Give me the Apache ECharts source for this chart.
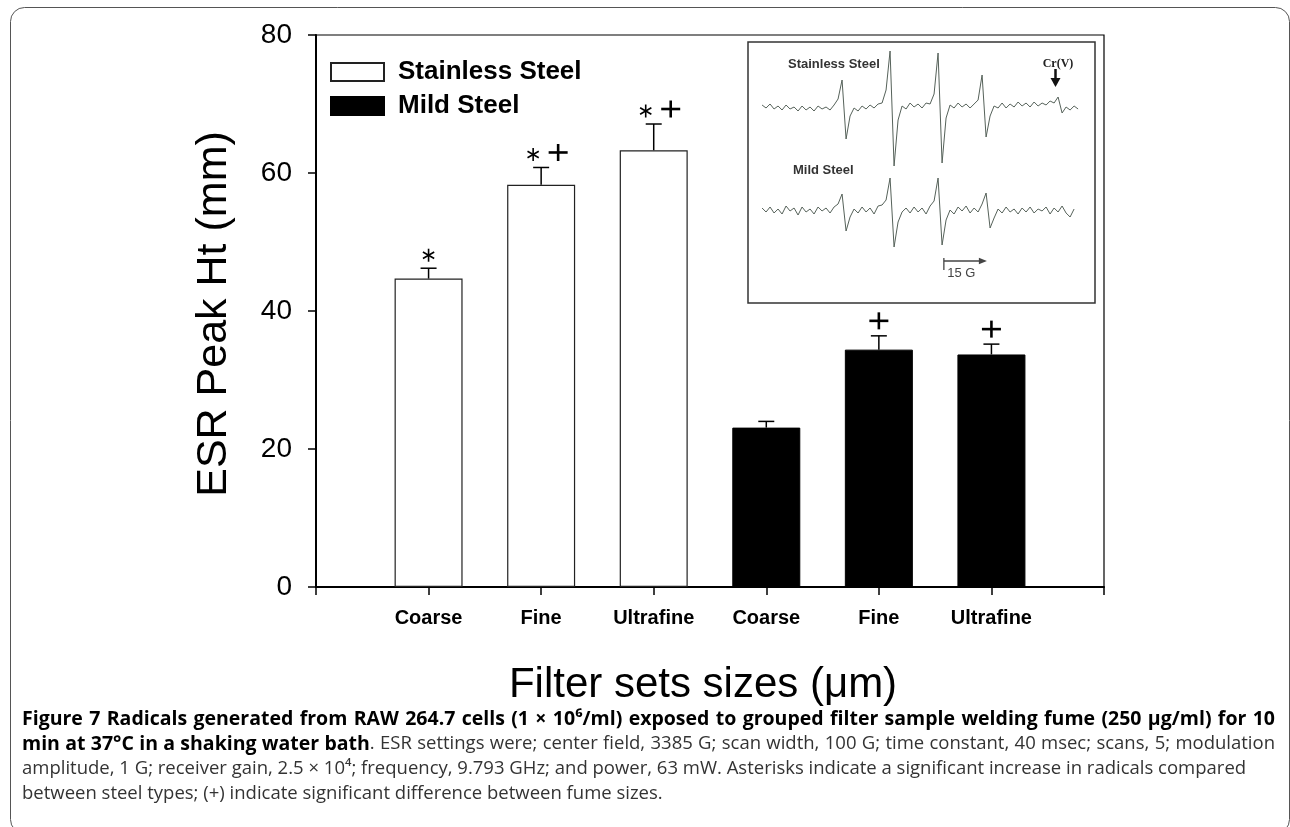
<!DOCTYPE html>
<html>
<head>
<meta charset="utf-8">
<script src="https://cdn.jsdelivr.net/npm/echarts@6/dist/echarts.min.js"></script>
<style>
html,body{margin:0;padding:0;background:#fff;}
#c{width:1290px;height:827px;}
</style>
</head>
<body>
<div id="c"></div>
<script>
// ---------- main bar chart data ----------
const CATEGORIES = ['', 'Coarse', 'Fine', 'Ultrafine', 'Coarse', 'Fine', 'Ultrafine', ''];
const STAINLESS = [null, 44.7, 58.3, 63.3, null, null, null, null];
const STAINLESS_SEM = [null, 1.5, 2.5, 3.8, null, null, null, null];
const MILD = [null, null, null, null, 23.1, 34.4, 33.7, null];
const MILD_SEM = [null, null, null, null, 0.9, 2.0, 1.5, null];
const SIG_ASTERISK = [false, true, true, true, false, false, false, false];
const SIG_PLUS = [false, false, true, true, false, true, true, false];
const Y_MIN = 0, Y_MAX = 80, Y_STEP = 20;
const SERIES_NAMES = ['Stainless Steel', 'Mild Steel'];

// ---------- inset ESR spectra ----------
const FIELD_START_G = 4.9;
const FIELD_STEP_G = 1.395;
const ESR_STAINLESS = [
  67,64,68,63,66,62,67,63,65,61,
  66,62,65,61,66,63,65,62,67,73,
  92,33,56,64,61,66,63,67,64,68,
  69,82,121,6,52,66,63,69,65,68,
  64,69,68,78,119,9,54,67,64,69,
  65,68,64,68,72,97,35,56,66,64,
  69,64,68,65,70,66,69,65,70,66,
  69,67,71,69,75,59,65,62,66,63
];
const ESR_MILD = [
  -36,-40,-35,-41,-37,-42,-34,-39,-36,-43,
  -35,-40,-37,-42,-35,-39,-36,-41,-35,-32,
  -22,-59,-45,-37,-41,-35,-40,-36,-42,-34,
  -33,-28,-6,-75,-50,-40,-36,-41,-35,-40,
  -36,-42,-34,-29,-6,-73,-48,-38,-42,-35,
  -39,-34,-41,-36,-40,-32,-21,-56,-46,-37,
  -41,-35,-40,-37,-42,-36,-40,-35,-41,-37,
  -39,-35,-42,-36,-40,-34,-41,-45,-37
];
const SCALE_BAR = [68.3, 83.3, -89];   // [from G, to G, level]
const SCALE_BAR_LABEL = '15 G';

// ---------- caption ----------
const CAPTION_LINES = [
  { justify: true, parts: [['b', 'Figure 7 Radicals generated from RAW 264.7 cells (1 \u00d7 10\u2076/ml) exposed to grouped filter sample welding fume (250 \u03bcg/ml) for 10']] },
  { justify: true, parts: [['b', 'min at 37\u00b0C in a shaking water bath'], ['r', '. ESR settings were; center field, 3385 G; scan width, 100 G; time constant, 40 msec; scans, 5; modulation']] },
  { justify: false, parts: [['r', 'amplitude, 1 G; receiver gain, 2.5 \u00d7 10\u2074; frequency, 9.793 GHz; and power, 63 mW. Asterisks indicate a significant increase in radicals compared']] },
  { justify: false, parts: [['r', 'between steel types; (+) indicate significant difference between fume sizes.']] }
];

const FONT = '"Liberation Sans", Arial, sans-serif';
const CAP_FONT = '"Open Sans", "Noto Sans", sans-serif';
const CAP_STYLE = {
  b: { font: 'bold 19.5px ' + CAP_FONT, fill: '#000' },
  r: { font: '18.5px ' + CAP_FONT, fill: '#333' }
};

function spectrum(vals) {
  return vals.map((v, i) => [FIELD_START_G + i * FIELD_STEP_G, v]);
}
function errorData(vals, sems) {
  const out = [];
  vals.forEach((v, i) => {
    if (v != null) out.push([i, v, sems[i], SIG_ASTERISK[i] ? 1 : 0, SIG_PLUS[i] ? 1 : 0]);
  });
  return out;
}

// build caption text elements (word-justified like the journal layout)
const measureCtx = document.createElement('canvas').getContext('2d');
function textW(str, font) { measureCtx.font = font; return measureCtx.measureText(str).width; }
function captionGraphics(x0, x1, yStart, lineStep) {
  const els = [];
  CAPTION_LINES.forEach((line, li) => {
    const words = [];
    let cur = [];
    line.parts.forEach(([k, txt]) => {
      const pieces = txt.split(' ');
      pieces.forEach((p, pi) => {
        if (pi > 0) { words.push(cur); cur = []; }
        if (p.length) cur.push([k, p]);
      });
    });
    if (cur.length) words.push(cur);
    const widths = words.map(w => w.reduce((s, [k, t]) => s + textW(t, CAP_STYLE[k].font), 0));
    const total = widths.reduce((a, b) => a + b, 0);
    const spaceW = textW(' ', CAP_STYLE.r.font);
    const gap = line.justify ? Math.max(spaceW, (x1 - x0 - total) / (words.length - 1)) : spaceW;
    let x = x0;
    const y = yStart + li * lineStep;
    words.forEach((w, wi) => {
      let xx = x;
      w.forEach(([k, t]) => {
        els.push({ type: 'text', z: 10, x: xx, y: y,
          style: { text: t, font: CAP_STYLE[k].font, fill: CAP_STYLE[k].fill, align: 'left', verticalAlign: 'middle' } });
        xx += textW(t, CAP_STYLE[k].font);
      });
      x += widths[wi] + gap;
    });
  });
  return els;
}

function renderErr(params, api) {
  const i = api.value(0), v = api.value(1), e = api.value(2);
  const ast = api.value(3), plus = api.value(4);
  const b = api.coord([i, v]), t = api.coord([i, v + e]);
  const st = { stroke: '#000', lineWidth: 1.5 };
  const ch = [
    { type: 'line', shape: { x1: b[0], y1: b[1], x2: t[0], y2: t[1] }, style: st },
    { type: 'line', shape: { x1: t[0] - 8, y1: t[1], x2: t[0] + 8, y2: t[1] }, style: st }
  ];
  if (ast) {
    const cx = t[0] + (plus ? -8 : 0), cy = t[1] - 13, r = 6.5;
    [90, 30, 150].forEach(a => {
      const rad = a * Math.PI / 180, dx = r * Math.cos(rad), dy = r * Math.sin(rad);
      ch.push({ type: 'line', shape: { x1: cx - dx, y1: cy - dy, x2: cx + dx, y2: cy + dy },
        style: { stroke: '#000', lineWidth: 1.6 } });
    });
  }
  if (plus) {
    const cx = t[0] + (ast ? 17 : 0), cy = t[1] - 15;
    ch.push({ type: 'line', shape: { x1: cx - 9.5, y1: cy, x2: cx + 9.5, y2: cy }, style: { stroke: '#000', lineWidth: 2.6 } });
    ch.push({ type: 'line', shape: { x1: cx, y1: cy - 8.5, x2: cx, y2: cy + 8.5 }, style: { stroke: '#000', lineWidth: 2.6 } });
  }
  return { type: 'group', children: ch };
}

function renderScale(params, api) {
  const a = api.coord([api.value(0), api.value(2)]);
  const b = api.coord([api.value(1), api.value(2)]);
  const c = '#444';
  return { type: 'group', children: [
    { type: 'line', shape: { x1: a[0], y1: a[1], x2: b[0] - 6, y2: b[1] }, style: { stroke: c, lineWidth: 1.3 } },
    { type: 'polygon', shape: { points: [[b[0], b[1]], [b[0] - 8, b[1] - 3.2], [b[0] - 8, b[1] + 3.2]] }, style: { fill: c } },
    { type: 'line', shape: { x1: a[0], y1: a[1] - 3, x2: a[0], y2: a[1] + 9 }, style: { stroke: c, lineWidth: 1.3 } },
    { type: 'text', style: { text: SCALE_BAR_LABEL, x: (a[0] + b[0]) / 2 - 4, y: a[1] + 12,
      font: '13px ' + FONT, fill: c, align: 'center', verticalAlign: 'middle' } }
  ]};
}

const chart = echarts.init(document.getElementById('c'), null, { renderer: 'canvas' });

const option = {
  animation: false,
  backgroundColor: '#fff',
  legend: {
    orient: 'vertical', left: 330, top: 59, padding: 0,
    itemWidth: 53, itemHeight: 18, itemGap: 8, icon: 'rect',
    data: SERIES_NAMES,
    textStyle: { fontFamily: FONT, fontWeight: 'bold', fontSize: 26, color: '#000', lineHeight: 26, padding: [0, 0, 0, 9] }
  },
  grid: [
    { left: 316, top: 35, width: 788, height: 552, show: true, borderColor: '#000', borderWidth: 1.2, containLabel: false },
    { left: 748, top: 42, width: 347, height: 261, show: true, borderColor: '#333', borderWidth: 1.5, backgroundColor: '#fff', z: 5 }
  ],
  xAxis: [
    {
      gridIndex: 0, type: 'category', data: CATEGORIES, boundaryGap: false,
      axisLine: { lineStyle: { color: '#000', width: 2 } },
      axisTick: { show: true, interval: 0, length: 8, lineStyle: { color: '#000', width: 1.5 } },
      axisLabel: { interval: 0, margin: 21, fontFamily: FONT, fontWeight: 'bold', fontSize: 20, color: '#000' },
      splitLine: { show: false }
    },
    { gridIndex: 1, type: 'value', min: 0, max: 121, show: false }
  ],
  yAxis: [
    {
      gridIndex: 0, type: 'value', min: Y_MIN, max: Y_MAX, interval: Y_STEP,
      axisLine: { show: true, lineStyle: { color: '#000', width: 2 } },
      axisTick: { show: true, length: 8, lineStyle: { color: '#000', width: 1.5 } },
      axisLabel: { margin: 24, fontFamily: FONT, fontSize: 28, color: '#000' },
      splitLine: { show: false }
    },
    { gridIndex: 1, type: 'value', min: -131, max: 130, show: false }
  ],
  series: [
    {
      name: SERIES_NAMES[0], type: 'bar', xAxisIndex: 0, yAxisIndex: 0,
      data: STAINLESS, barWidth: 68, barGap: '-100%',
      itemStyle: { color: '#fff', borderColor: '#222', borderWidth: 1.2 }
    },
    {
      name: SERIES_NAMES[1], type: 'bar', xAxisIndex: 0, yAxisIndex: 0,
      data: MILD, barWidth: 68, barGap: '-100%',
      itemStyle: { color: '#000', borderColor: '#000', borderWidth: 1 }
    },
    {
      type: 'custom', xAxisIndex: 0, yAxisIndex: 0, renderItem: renderErr,
      data: errorData(STAINLESS, STAINLESS_SEM), z: 4, silent: true
    },
    {
      type: 'custom', xAxisIndex: 0, yAxisIndex: 0, renderItem: renderErr,
      data: errorData(MILD, MILD_SEM), z: 4, silent: true
    },
    {
      type: 'line', xAxisIndex: 1, yAxisIndex: 1, data: spectrum(ESR_STAINLESS),
      showSymbol: false, symbol: 'none', lineStyle: { color: '#56625a', width: 1 }, z: 6, silent: true
    },
    {
      type: 'line', xAxisIndex: 1, yAxisIndex: 1, data: spectrum(ESR_MILD),
      showSymbol: false, symbol: 'none', lineStyle: { color: '#56625a', width: 1 }, z: 6, silent: true
    },
    {
      type: 'custom', xAxisIndex: 1, yAxisIndex: 1, renderItem: renderScale,
      data: [SCALE_BAR], z: 6, silent: true
    }
  ],
  graphic: [
    { type: 'rect', z: 0, shape: { x: 10.5, y: 7.5, width: 1279, height: 826, r: 14 },
      style: { fill: 'none', stroke: '#555', lineWidth: 1 } },
    { type: 'text', z: 10, x: 214, y: 314, rotation: Math.PI / 2,
      style: { text: 'ESR Peak Ht (mm)', font: '43px ' + FONT, fill: '#000', align: 'center', verticalAlign: 'middle' } },
    { type: 'text', z: 10, x: 703, y: 685,
      style: { text: 'Filter sets sizes (\u03bcm)', font: '42px ' + FONT, fill: '#000', align: 'center', verticalAlign: 'middle' } },
    { type: 'text', z: 100, x: 788, y: 64,
      style: { text: 'Stainless Steel', font: 'bold 13px ' + FONT, fill: '#333', align: 'left', verticalAlign: 'middle' } },
    { type: 'text', z: 100, x: 793, y: 170,
      style: { text: 'Mild Steel', font: 'bold 13px ' + FONT, fill: '#333', align: 'left', verticalAlign: 'middle' } },
    { type: 'text', z: 100, x: 1058, y: 63.5,
      style: { text: 'Cr(V)', font: 'bold 12px "Liberation Serif", "Times New Roman", serif', fill: '#222', align: 'center', verticalAlign: 'middle' } },
    { type: 'line', z: 100, shape: { x1: 1055.5, y1: 69, x2: 1055.5, y2: 80 }, style: { stroke: '#111', lineWidth: 2.5 } },
    { type: 'polygon', z: 100, shape: { points: [[1050.5, 78], [1060.5, 78], [1055.5, 87]] }, style: { fill: '#111' } }
  ].concat(captionGraphics(22, 1275, 719, 25))
};

chart.setOption(option);
</script>
</body>
</html>
